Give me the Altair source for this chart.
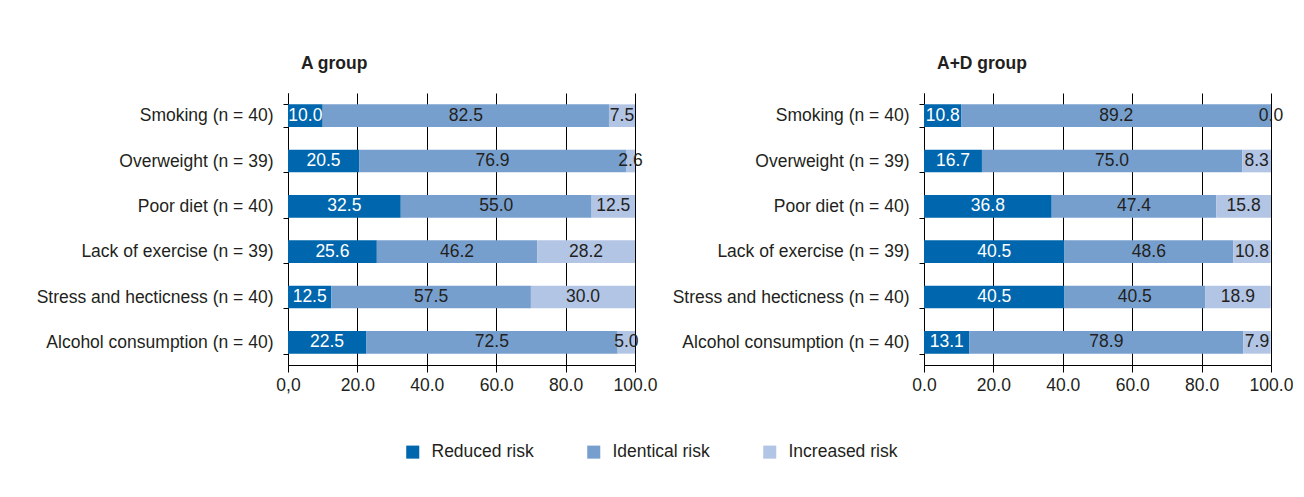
import altair as alt
import pandas as pd

FONT = "Liberation Sans Narrow, Arial Narrow, Liberation Sans, Arial, sans-serif"
FS = 17.5

categories = [
    "Smoking (n = 40)",
    "Overweight (n = 39)",
    "Poor diet (n = 40)",
    "Lack of exercise (n = 39)",
    "Stress and hecticness (n = 40)",
    "Alcohol consumption (n = 40)",
]
risks = ["Reduced risk", "Identical risk", "Increased risk"]

a_reduced = [10.0, 20.5, 32.5, 25.6, 12.5, 22.5]
a_identical = [82.5, 76.9, 55.0, 46.2, 57.5, 72.5]
a_increased = [7.5, 2.6, 12.5, 28.2, 30.0, 5.0]

ad_reduced = [10.8, 16.7, 36.8, 40.5, 40.5, 13.1]
ad_identical = [89.2, 75.0, 47.4, 48.6, 40.5, 78.9]
ad_increased = [0.0, 8.3, 15.8, 10.8, 18.9, 7.9]

x_ticks = [0, 20, 40, 60, 80, 100]
colors = ["#0066ad", "#779fce", "#b3c5e5"]


def make_df(reduced, identical, increased):
    rows = []
    for i, cat in enumerate(categories):
        for k, (risk, vals) in enumerate(zip(risks, [reduced, identical, increased])):
            rows.append({"category": cat, "risk": risk, "order": k, "value": vals[i]})
    return pd.DataFrame(rows)


def panel(df, title, zero_label, show_legend):
    base = (
        alt.Chart(df)
        .transform_stack(
            stack="value",
            groupby=["category"],
            sort=[alt.SortField("order")],
            as_=["x0", "x1"],
        )
        .transform_calculate(mid="(datum.x0 + datum.x1) / 2")
    )
    y = alt.Y(
        "category:N",
        sort=categories,
        title=None,
        scale=alt.Scale(paddingInner=0.5, paddingOuter=0.25),
        axis=alt.Axis(
            tickBand="extent",
            tickSize=5,
            labelPadding=10,
            domainColor="black",
            tickColor="black",
            labelColor="#231f20",
            labelFontSize=FS,
            labelFont=FONT,
            labelLimit=400,
            grid=False,
        ),
    )
    label_expr = (
        f"datum.value == 0 ? '{zero_label}' : format(datum.value, '.1f')"
    )
    color_kwargs = dict(
        scale=alt.Scale(domain=risks, range=colors),
        sort=risks,
    )
    if show_legend:
        color_kwargs["legend"] = alt.Legend(
            orient="none",
            legendX=116,
            legendY=350,
            direction="horizontal",
            title=None,
            symbolType="square",
            symbolSize=170,
            symbolStrokeWidth=0,
            labelFontSize=FS,
            labelFont=FONT,
            labelColor="#231f20",
            columnPadding=51,
            labelOffset=10,
        )
    bars = base.mark_bar().encode(
        x=alt.X(
            "x0:Q",
            scale=alt.Scale(domain=[0, 100], nice=False),
            axis=alt.Axis(
                values=x_ticks,
                grid=True,
                gridColor="black",
                gridOpacity=1,
                gridWidth=1,
                domainColor="black",
                tickColor="black",
                tickSize=7,
                labelExpr=label_expr,
                labelFontSize=FS,
                labelFont=FONT,
                labelColor="#231f20",
                labelPadding=4,
                labelOverlap=False,
                labelFlush=False,
                title=None,
            ),
        ),
        x2="x1:Q",
        y=y,
        color=alt.Color("risk:N", **color_kwargs),
    )
    text = base.mark_text(fontSize=FS, font=FONT).encode(
        x="mid:Q",
        y=alt.Y("category:N", sort=categories),
        text=alt.Text("value:Q", format=".1f"),
        color=alt.condition(
            alt.datum.risk == "Reduced risk",
            alt.value("white"),
            alt.value("#231f20"),
        ),
    )
    return alt.layer(bars, text).properties(
        width=347,
        height=272,
        title=alt.Title(
            title,
            anchor="start",
            frame="group",
            dx=13,
            fontSize=FS,
            font=FONT,
            fontWeight="bold",
            color="#231f20",
            offset=12,
        ),
    )


left = panel(make_df(a_reduced, a_identical, a_increased), "A group", "0,0", True)
right = panel(make_df(ad_reduced, ad_identical, ad_increased), "A+D group", "0.0", False)

chart = (
    alt.hconcat(left, right, spacing=289, bounds="flush")
    .properties(padding={"left": 28, "top": 46, "right": 0, "bottom": 5})
    .configure_view(stroke=None)
    .configure_axis(domainWidth=1, tickWidth=1)
)

chart.save("out.html", embed_options={"renderer": "svg", "actions": False})
